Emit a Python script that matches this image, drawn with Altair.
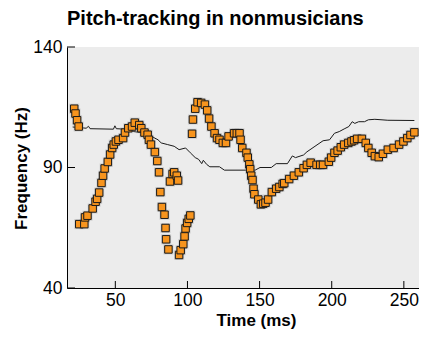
import altair as alt
import pandas as pd

# Pitch-tracking points (time ms, frequency Hz)
pt_time = [21.5, 22.4, 23.5, 24.6,
           25, 28.5, 29, 30.7, 34.3, 36.3, 37.4, 38.8, 40.4, 41.5, 42.6, 44.8, 46.4, 47.8, 48.9, 50.4,
           52.2, 55.4, 56.7, 59, 61.6, 63.5, 66.6, 68, 70.2, 72.4, 73.3, 74.7, 77.4, 79.1, 80.3, 81.2,
           82.3, 84.1, 84.8, 85.2, 86.8,
           87.9, 89.7, 90.8, 92.6, 93.5,
           94.2, 95.3, 97.1, 98, 98.7, 99.8, 100.9, 102,
           103.2, 103.8, 105.4, 107, 109.5, 112.1, 113.7, 115, 116.6, 118.8, 120.5, 122.2, 124.5, 126.7,
           128.5, 132.3, 134.2, 136.1, 136.8, 138, 140.9, 141.8, 142.9, 143.5, 144.2, 145.1, 145.8, 146.4,
           149.1, 150.9, 152.5, 154.1, 155.9, 158.5, 161.5, 163.7, 166, 167.1, 170.5, 173.8, 177.2, 180.5,
           182.8, 185.4, 189.5, 192, 194, 198, 199.6, 201.9, 204.1, 206.3, 208.6, 211.5, 213.7, 215.5,
           217.6, 220.9, 223.6, 225.4, 227.7, 229.9, 232.6, 235.5, 238.9, 242.9, 246.7, 249.7, 252.4,
           254.6, 257.3]
pt_freq = [114.4, 112.4, 109.6, 107,
           66.5, 66.5, 69.3, 70, 73, 75.8, 77, 79.6, 83.6, 86.6, 89.6, 92.3, 95.4, 98.1, 99.5, 100.8,
           101.5, 102.2, 104.5, 106.3, 107, 108.6, 107.6, 106.3, 104.5, 103.6, 101.5, 99.5, 96.4, 92.7, 88, 79.8,
           73.6, 70.4, 64.9, 60.2, 56,
           84.2, 87.3, 88, 86.6, 84.6,
           53.7, 55.7, 58.2, 61.4, 64.7, 67, 68.7, 70.1,
           104, 109.9, 114.4, 117.1, 116.8, 116.1, 113.7, 110.3, 107, 104.2, 102.2, 101.5, 100.2, 100.2,
           102.9, 104.2, 104.2, 104.2, 101.5, 98.1, 96.1, 94.1, 91.3, 89.3, 86.6, 84.8, 81.2, 78.9,
           76.7, 74.7, 75, 75.4, 76.7, 79.8, 81.2, 81.9, 83.2, 83.5, 85.2, 86.6, 88, 89.7,
           91.1, 92, 91.1, 91.1, 91.1, 92.4, 94.1, 96.1, 97, 98.4, 99.5, 100.2, 100.8, 101.3,
           101.9, 101.9, 100.2, 98.1, 96.1, 94.7, 94.3, 95.7, 97.4, 98.1, 99.5, 100.8, 102.2,
           103.5, 104.6]

# Reference contour line
ln_time = [20.4, 29.8, 31.4, 32.5, 48.7, 49.7, 50.7, 57.2, 62.8, 71.7, 75.1, 79.6, 81.8, 86.3, 90.8,
           94.2, 98.7, 102, 105.4, 107.7, 109.9, 111, 113.3, 115.5, 122.2, 125.6, 146.9, 150.3, 158.1,
           161.5, 169.3, 172.7, 174.9, 180.5, 182.8, 188.4, 194, 198.5, 201.9, 205.2, 208.6, 211.9,
           214.2, 216, 218.7, 222.7, 225.4, 229.9, 238.9, 257.3]
ln_freq = [106.8, 106.3, 107.1, 106.1, 105.9, 107.3, 106.1, 105.9, 104.9, 104.2, 102.9, 101.5, 100.2,
           99.5, 98.8, 97.4, 98.1, 96.1, 94.1, 93.4, 91.6, 93, 91.3, 90.3, 90.3, 88.9, 88.9, 90, 90,
           91.6, 91.6, 94.8, 94.1, 95.2, 96.5, 98.8, 101.1, 101.5, 104.2, 104.9, 106, 107, 109, 108.3,
           109, 109, 109.8, 110, 109.6, 109.5]

x_ticks = [50, 100, 150, 200, 250]
y_ticks = [40, 90, 140]

W, H = 352, 241
FONT = "Liberation Sans"

pts = pd.DataFrame({"t": pt_time, "f": pt_freq})
lns = pd.DataFrame({"t": ln_time, "f": ln_freq})
xt = pd.DataFrame({"t": x_ticks})
yt = pd.DataFrame({"f": y_ticks})

xscale = alt.Scale(domain=[16.5, 260.5], nice=False, zero=False)
yscale = alt.Scale(domain=[40, 140], nice=False, zero=False)

xaxis = alt.Axis(values=x_ticks, title="Time (ms)", grid=False, tickSize=0, labelPadding=3,
                 labelFontSize=17.5, labelFont=FONT, labelColor="#000", domainColor="#000",
                 titleFont=FONT, titleFontSize=17, titleFontWeight="bold", titleColor="#000",
                 titleX=189, titleY=32, titleBaseline="middle")
yaxis = alt.Axis(values=y_ticks, title="Frequency (Hz)", grid=False, tickSize=0, labelPadding=5,
                 labelFontSize=17.5, labelFont=FONT, labelColor="#000", domainColor="#000",
                 titleFont=FONT, titleFontSize=17, titleFontWeight="bold", titleColor="#000",
                 titleX=-46, titleY=121, titleBaseline="middle", titleAngle=-90)

line = alt.Chart(lns).mark_line(color="#1a1a1a", strokeWidth=1).encode(
    x=alt.X("t:Q", scale=xscale, axis=xaxis),
    y=alt.Y("f:Q", scale=yscale, axis=yaxis),
)
shadow = alt.Chart(pts).mark_point(shape="square", filled=True, color="#888888", opacity=0.3, size=100).encode(
    x=alt.X("t:Q", scale=xscale),
    y=alt.Y("f:Q", scale=yscale),
)
points = alt.Chart(pts).mark_point(shape="square", filled=True, fill="#f7941d", stroke="#1a1a1a",
                                   strokeWidth=1, opacity=1, size=56).encode(
    x=alt.X("t:Q", scale=xscale),
    y=alt.Y("f:Q", scale=yscale),
)
xtick = alt.Chart(xt).mark_rule(color="#000", strokeWidth=1).encode(
    x=alt.X("t:Q", scale=xscale),
    y=alt.value(H),
    y2=alt.value(H - 7),
)
ytick = alt.Chart(yt).mark_rule(color="#000", strokeWidth=1).encode(
    y=alt.Y("f:Q", scale=yscale),
    x=alt.value(0),
    x2=alt.value(8),
)

chart = alt.layer(line, shadow, points, xtick, ytick).properties(
    width=W, height=H,
    title=alt.TitleParams("Pitch-tracking in nonmusicians", anchor="start", frame="group", font=FONT,
                          fontSize=20, fontWeight="bold", color="#000", offset=9),
    autosize=alt.AutoSizeParams(type="none"),
    padding={"left": 59, "top": 39, "right": 0, "bottom": 42},
).configure_view(fill="#ececec", stroke=None)

chart.save("out.html", embed_options={"renderer": "svg", "actions": False})
